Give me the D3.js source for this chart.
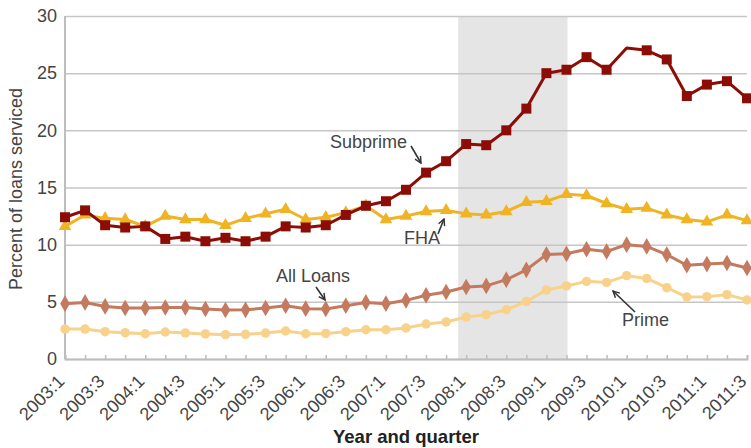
<!DOCTYPE html>
<html>
<head>
<meta charset="utf-8">
<script src="https://cdn.jsdelivr.net/npm/d3@7"></script>
<style>
  body { margin: 0; background: #fff; }
  svg text { font-family: "Liberation Sans", Arial, Helvetica, sans-serif; fill: #444; }
</style>
</head>
<body>
<div id="chart-area"></div>
<script>
// Quarters 2003:1 .. 2011:3
var quarters = ["2003:1","2003:2","2003:3","2003:4","2004:1","2004:2","2004:3","2004:4",
    "2005:1","2005:2","2005:3","2005:4","2006:1","2006:2","2006:3","2006:4",
    "2007:1","2007:2","2007:3","2007:4","2008:1","2008:2","2008:3","2008:4",
    "2009:1","2009:2","2009:3","2009:4","2010:1","2010:2","2010:3","2010:4",
    "2011:1","2011:2","2011:3"];
var tickLabels = ["2003:1","2003:3","2004:1","2004:3","2005:1","2005:3","2006:1","2006:3",
    "2007:1","2007:3","2008:1","2008:3","2009:1","2009:3","2010:1","2010:3","2011:1","2011:3"];
var yTicks = [0, 5, 10, 15, 20, 25, 30];

var subprime = [12.4, 13.0, 11.7, 11.5, 11.6, 10.5, 10.7, 10.3, 10.6, 10.3,
    10.7, 11.6, 11.5, 11.7, 12.6, 13.4, 13.8, 14.8, 16.3, 17.3,
    18.8, 18.7, 20.0, 21.9, 25.0, 25.3, 26.4, 25.3, 27.2, 27.0,
    26.2, 23.0, 24.0, 24.3, 22.8];
var subprimeNoMarker = ["2010:1"];
var fha = [11.6, 12.6, 12.3, 12.2, 11.6, 12.5, 12.2, 12.2, 11.7, 12.3,
    12.7, 13.1, 12.2, 12.4, 12.8, 13.4, 12.2, 12.5, 12.9, 13.0,
    12.7, 12.6, 12.9, 13.7, 13.8, 14.4, 14.3, 13.6, 13.1, 13.2,
    12.6, 12.2, 12.0, 12.6, 12.1];
var allLoans = [4.84, 4.95, 4.6, 4.46, 4.46, 4.5, 4.5, 4.37, 4.29, 4.3,
    4.46, 4.66, 4.4, 4.38, 4.66, 4.95, 4.84, 5.13, 5.57, 5.86,
    6.3, 6.39, 6.94, 7.8, 9.13, 9.2, 9.6, 9.4, 10.0, 9.85,
    9.13, 8.2, 8.3, 8.4, 7.96];
var prime = [2.62, 2.62, 2.39, 2.3, 2.21, 2.36, 2.28, 2.19, 2.13, 2.16,
    2.27, 2.45, 2.21, 2.24, 2.39, 2.56, 2.56, 2.71, 3.06, 3.24,
    3.67, 3.88, 4.31, 5.04, 6.04, 6.39, 6.79, 6.7, 7.29, 7.05,
    6.24, 5.42, 5.45, 5.63, 5.16];
// recession shading, in quarter-index units
var recession = [19.6, 25.05];

var width = 751, height = 448;
var margin = { left: 65, right: 4, top: 16, bottom: 89 };

var svg = d3.select("#chart-area").append("svg")
    .attr("width", width)
    .attr("height", height);

var x = d3.scaleLinear().domain([0, quarters.length - 1]).range([margin.left, width - margin.right]);
var y = d3.scaleLinear().domain([0, 30]).range([height - margin.bottom, margin.top]);

// Shaded recession band
svg.append("rect")
    .attr("x", x(recession[0]))
    .attr("y", y(30))
    .attr("width", x(recession[1]) - x(recession[0]))
    .attr("height", y(0) - y(30))
    .attr("fill", "#e5e5e5");

// Gridlines + y labels
var yAxis = svg.append("g")
    .attr("class", "y axis")
    .attr("transform", "translate(" + margin.left + ",0)")
    .call(d3.axisLeft(y).tickValues(yTicks).tickSize(-(x.range()[1] - x.range()[0])).tickPadding(8));
yAxis.select(".domain").remove();
yAxis.selectAll("line").attr("stroke", "#c6c6c6").attr("stroke-width", 1.5);
yAxis.selectAll("text").attr("font-size", "18px").attr("fill", "#444");

// Y axis line
svg.append("line")
    .attr("x1", x(0)).attr("x2", x(0))
    .attr("y1", y(30)).attr("y2", y(0))
    .attr("stroke", "#bdbdbd").attr("stroke-width", 2);

// X axis
var xAxis = svg.append("g")
    .attr("class", "x axis")
    .attr("transform", "translate(0," + y(0) + ")")
    .call(d3.axisBottom(x).tickValues(d3.range(quarters.length)).tickSize(-4).tickFormat(""));
xAxis.select(".domain").attr("stroke", "#bdbdbd").attr("stroke-width", 2);
xAxis.selectAll("line").attr("stroke", "#bdbdbd").attr("stroke-width", 1.5);

svg.append("g").selectAll("text")
    .data(tickLabels)
    .enter().append("text")
    .attr("text-anchor", "end")
    .attr("font-size", "18px")
    .attr("transform", function(d) {
        var xi = x(quarters.indexOf(d));
        return "translate(" + (xi - 4) + "," + (y(0) + 19) + ") rotate(-45)";
    })
    .attr("dy", "0.35em")
    .text(function(d) { return d; });

// Axis titles
svg.append("text")
    .attr("x", 406)
    .attr("y", 443)
    .attr("text-anchor", "middle")
    .attr("font-size", "18.5px")
    .attr("font-weight", "bold")
    .style("fill", "#222")
    .text("Year and quarter");
svg.append("text")
    .attr("transform", "translate(22," + 189 + ") rotate(-90)")
    .attr("text-anchor", "middle")
    .attr("font-size", "18px")
    .text("Percent of loans serviced");

// Series
var series = [
    { name: "Prime", values: prime, color: "#f8d28b", shape: d3.symbolCircle, size: 70, skip: [] },
    { name: "All Loans", values: allLoans, color: "#c47a5e", shape: d3.symbolDiamond, size: 80, skip: [] },
    { name: "FHA", values: fha, color: "#f0b323", shape: d3.symbolTriangle, size: 70, skip: [] },
    { name: "Subprime", values: subprime, color: "#8c0d05", shape: d3.symbolSquare, size: 100, skip: subprimeNoMarker }
];

var line = d3.line()
    .x(function(d, i) { return x(i); })
    .y(function(d) { return y(d); });

series.forEach(function(s) {
    var g = svg.append("g").attr("class", "series");
    g.append("path")
        .attr("d", line(s.values))
        .attr("fill", "none")
        .attr("stroke", s.color)
        .attr("stroke-width", 3)
        .attr("stroke-linejoin", "round");
    g.selectAll("path.marker")
        .data(s.values.map(function(v, i) { return { v: v, i: i }; })
            .filter(function(d) { return s.skip.indexOf(quarters[d.i]) < 0; }))
        .enter().append("path")
        .attr("class", "marker")
        .attr("d", d3.symbol().type(s.shape).size(s.size))
        .attr("transform", function(d) { return "translate(" + x(d.i) + "," + y(d.v) + ")"; })
        .attr("fill", s.color);
});

// Annotations
svg.append("defs").append("marker")
    .attr("id", "arrow")
    .attr("viewBox", "0 0 10 10")
    .attr("refX", 9).attr("refY", 5)
    .attr("markerWidth", 8).attr("markerHeight", 8)
    .attr("markerUnits", "userSpaceOnUse")
    .attr("orient", "auto")
    .append("path")
    .attr("d", "M1,1 L9,5 L1,9")
    .attr("fill", "none")
    .attr("stroke", "#333")
    .attr("stroke-width", 1.8);

var notes = [
    { text: "Subprime", tx: 330, ty: 148, a: [411, 146, 421, 163] },
    { text: "FHA", tx: 404, ty: 244, a: [438, 234, 444, 219] },
    { text: "All Loans", tx: 276, ty: 282, a: [316, 287, 325, 300] },
    { text: "Prime", tx: 622, ty: 326, a: [635, 312, 613, 291] }
];
notes.forEach(function(n) {
    svg.append("text")
        .attr("x", n.tx).attr("y", n.ty)
        .attr("font-size", "18px")
        .text(n.text);
    svg.append("line")
        .attr("x1", n.a[0]).attr("y1", n.a[1])
        .attr("x2", n.a[2]).attr("y2", n.a[3])
        .attr("stroke", "#333")
        .attr("stroke-width", 1.6)
        .attr("marker-end", "url(#arrow)");
});
</script>
</body>
</html>
